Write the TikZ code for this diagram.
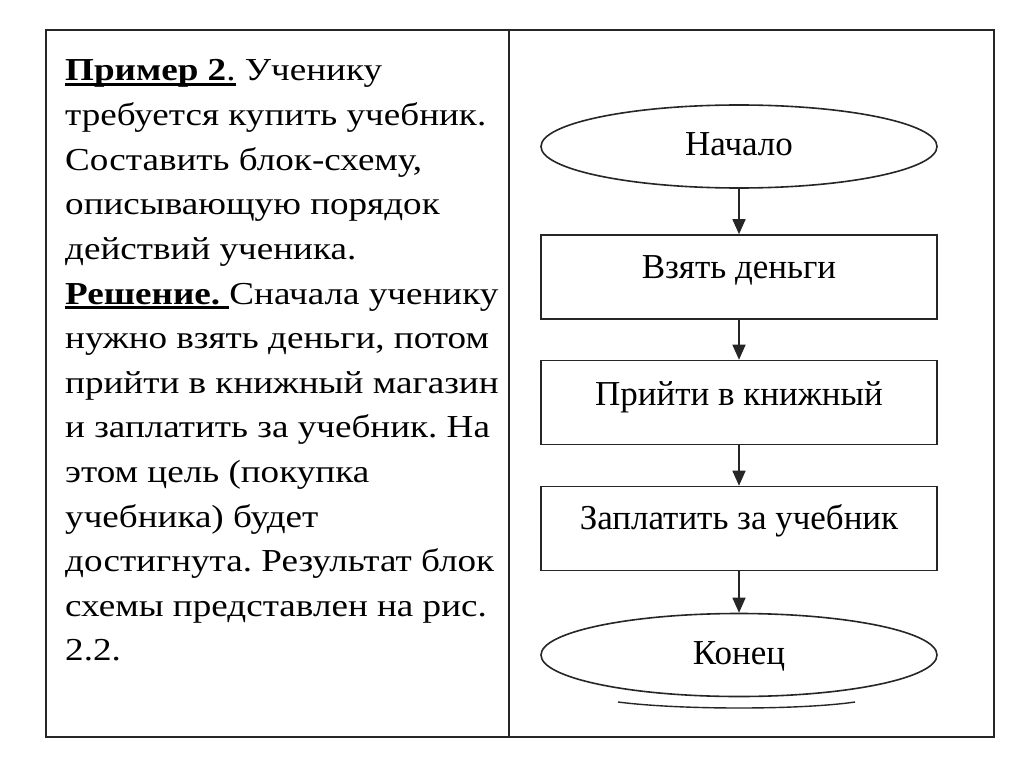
\documentclass[tikz,border=0pt]{standalone}
\usepackage{fontspec}
\setmainfont{Liberation Serif}
\newfontfamily\lefttext{Liberation Serif}[FakeStretch=1.16]
\frenchspacing
\usetikzlibrary{shapes.geometric,arrows.meta}
\newcommand\myul[1]{\setbox0\hbox{#1}\rlap{\rule[-5pt]{\wd0}{2.6pt}}\box0\relax}
\tikzset{
  txt/.style={anchor=base west,inner sep=0pt,font=\lefttext\fontsize{32}{38}\selectfont},
  term/.style={ellipse,draw=black!85,line width=1.6pt,minimum width=396pt,minimum height=83pt,inner sep=0pt,text height=23pt,text depth=0pt,font=\fontsize{35}{40}\selectfont},
  proc/.style={rectangle,draw=black!85,line width=1.6pt,minimum width=396pt,minimum height=84pt,inner sep=0pt,text height=23pt,text depth=0pt,font=\fontsize{35}{40}\selectfont},
  flow/.style={draw=black!85,line width=1.6pt,-{Triangle[length=15pt,width=13pt]}},
  frame/.style={draw=black!85,line width=1.8pt}
}
\begin{document}
\begin{tikzpicture}[x=1pt,y=-1pt]
\useasboundingbox (0,0) rectangle (1024,767);
\fill[white] (0,0) rectangle (1024,767);
\draw[frame] (46,30) rectangle (994,737);
\draw[frame] (509,30) -- (509,737);
% left text
\node[txt] (t1) at (65,81) {\myul{\textbf{Пример 2}.} Ученику};
\node[txt] (t2) at (65,125.6) {требуется купить учебник.};
\node[txt] (t3) at (65,170.2) {Составить блок-схему,};
\node[txt] (t4) at (65,214.8) {описывающую порядок};
\node[txt] (t5) at (65,259.4) {действий ученика.};
\node[txt] (t6) at (65,304) {\myul{\textbf{Решение.} }Сначала ученику};
\node[txt] (t7) at (65,348.6) {нужно взять деньги, потом};
\node[txt] (t8) at (65,393.2) {прийти в книжный магазин};
\node[txt] (t9) at (65,437.8) {и заплатить за учебник. На};
\node[txt] (t10) at (65,482.4) {этом цель (покупка};
\node[txt] (t11) at (65,527) {учебника) будет};
\node[txt] (t12) at (65,571.6) {достигнута. Результат блок};
\node[txt] (t13) at (65,616.2) {схемы представлен на рис.};
\node[txt] (t14) at (65,660.8) {2.2.};
% flowchart
\node[term] (start) at (739,146.5) {\raisebox{2pt}{Начало}};
\node[proc] (b1) at (739,277) {\raisebox{10pt}{Взять деньги}};
\node[proc] (b2) at (739,402.5) {\raisebox{9pt}{Прийти в книжный}};
\node[proc] (b3) at (739,528.5) {\raisebox{11pt}{Заплатить за учебник}};
\node[term] (end) at (739,655) {\raisebox{2.5pt}{Конец}};
\draw[flow] (start) -- (b1);
\draw[flow] (b1) -- (b2);
\draw[flow] (b2) -- (b3);
\draw[flow] (b3) -- (end);
\draw[draw=black!85,line width=1.4pt] (618,702) .. controls (680,710) and (800,710) .. (855,702);
\end{tikzpicture}
\end{document}
